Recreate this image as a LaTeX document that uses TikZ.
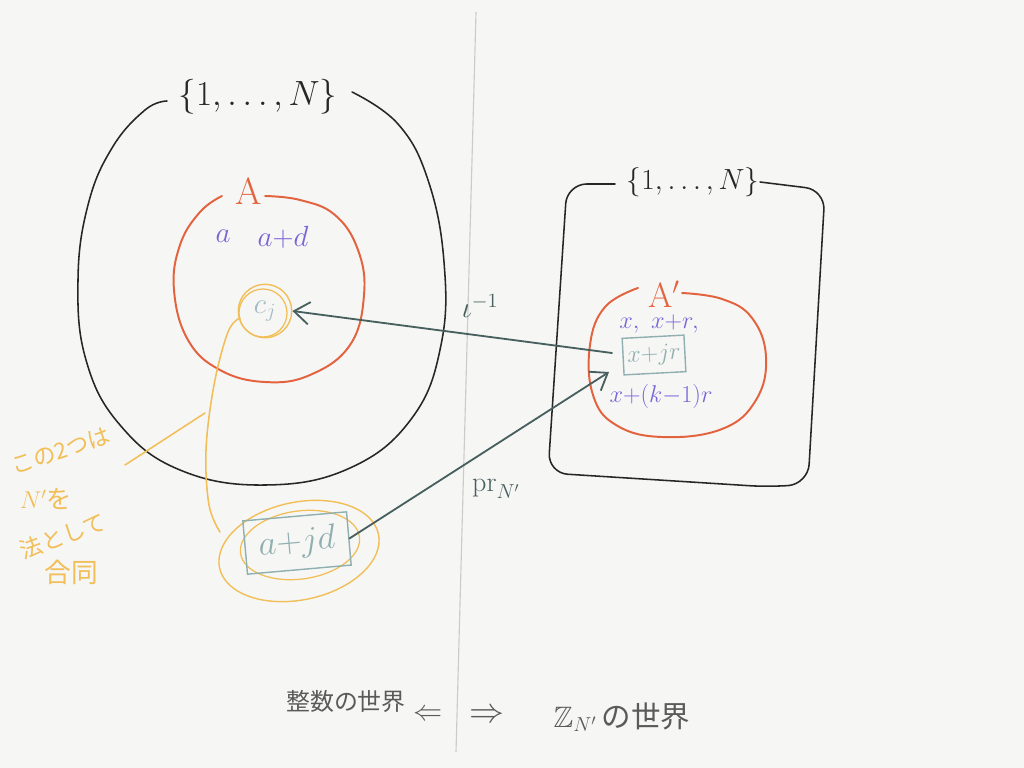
\documentclass[tikz,border=0pt]{standalone}
\usepackage{fontspec}
\usepackage{amssymb}
\newfontfamily\jp{Noto Sans CJK JP}
\usetikzlibrary{arrows.meta}
\definecolor{bg}{HTML}{F6F6F5}
\definecolor{ink}{HTML}{262626}
\definecolor{orng}{HTML}{E4633F}
\definecolor{purp}{HTML}{7B63D8}
\definecolor{yel}{HTML}{F1BE58}
\definecolor{slate}{HTML}{47605E}
\definecolor{boxc}{HTML}{8FAFB0}
\definecolor{cjc}{HTML}{A3BAC4}
\definecolor{vl}{HTML}{CBCBCB}
\definecolor{gry}{HTML}{5A5A5A}
\tikzset{
  blk/.style={draw=ink, line width=1.1pt, line cap=round, line join=round},
  org/.style={draw=orng, line width=1.4pt, line cap=round, line join=round},
  yelline/.style={draw=yel, line width=1.1pt, line cap=round},
  arr/.style={draw=slate, line width=1.3pt, line cap=round, -{Straight Barb[length=11pt,width=16pt,line width=1.3pt]}},
  plab/.style={text=purp, inner sep=0pt},
  jptext/.style={text=yel, inner sep=0pt, font=\jp},
  mbox/.style={draw=boxc, line width=1pt, inner sep=2pt, text=boxc},
}
\begin{document}
\begin{tikzpicture}[x=0.025cm, y=-0.025cm]
\useasboundingbox (0,0) rectangle (1024,768);
\fill[bg] (0,0) rectangle (1024,768);

% dividing line
\draw[vl, line width=0.8pt] (476,12) -- (456,752);

% left big set
\draw[blk] plot[smooth, tension=0.7] coordinates {(352,92) (398,124) (428,180) (444,262) (441,345) (412,418) (350,468) (265,485) (180,470) (120,425) (86,360) (78,280) (88,205) (112,148) (145,110) (167,101)};
\node[text=ink, inner sep=0pt, font=\fontsize{26}{30}\selectfont] (U1) at (258,97) {$\{1,\dots,N\}$};

% A
\draw[org] plot[smooth, tension=0.7] coordinates {(265,196) (300,200) (335,215) (358,250) (364,295) (350,345) (310,375) (265,382) (220,370) (188,340) (174,290) (180,245) (200,212) (222,196)};
\node[text=orng, inner sep=0pt, font=\fontsize{27}{30}\selectfont] (A) at (249,191) {$\mathrm{A}$};
\node[plab, font=\fontsize{22}{26}\selectfont] (a1) at (223,236) {$a$};
\node[plab, font=\fontsize{21}{26}\selectfont] (a2) at (283,237) {$a{+}d$};

% c_j
\node[circle, draw=yel, line width=1pt, minimum size=38pt, inner sep=0pt, text=cjc, font=\fontsize{20}{24}\selectfont] (CJ) at (265,311) {$c_j$};
\draw[yel, line width=0.9pt] (263,313) circle [radius=0.6cm];

% right set
\draw[blk, rounded corners=14pt] (615,184) -- (567,184) -- (548,473) -- (770,487) -- (808,484) -- (825,190) -- (760,182);
\node[text=ink, inner sep=0pt, font=\fontsize{22}{26}\selectfont] (U2) at (693,182) {$\{1,\dots,N\}$};

% A'
\draw[org] plot[smooth, tension=0.7] coordinates {(682,293) (722,299) (752,318) (766,357) (756,400) (722,429) (662,437) (616,425) (593,395) (590,345) (605,307) (638,288)};
\node[text=orng, inner sep=0pt, font=\fontsize{25}{30}\selectfont] (Ap) at (664,294) {$\mathrm{A}'$};
\node[plab, font=\fontsize{18}{22}\selectfont] (x1) at (659,324) {$x,\ x{+}r,$};
\node[mbox, minimum width=44pt, minimum height=26pt, rotate=3, font=\fontsize{17}{20}\selectfont] (XJR) at (654,355) {$x{+}jr$};
\node[plab, font=\fontsize{17}{22}\selectfont] (x3) at (661,396) {$x{+}(k{-}1)r$};

% a+jd
\draw[yel, line width=1pt, rotate around={12:(299,551)}] (299,551) ellipse [x radius=2.03cm, y radius=1.22cm];
\draw[yel, line width=0.9pt, rotate around={8:(300,545)}] (300,545) ellipse [x radius=1.5cm, y radius=0.85cm];
\node[mbox, minimum width=74pt, minimum height=38pt, rotate=5, font=\fontsize{23}{26}\selectfont] (AJD) at (297,543) {$a{+}jd$};

% connectors
\coordinate (iotaStart) at (612,353);
\draw[arr] (iotaStart) -- (CJ.east);
\node[text=slate, inner sep=0pt, font=\fontsize{20}{24}\selectfont] (iota) at (480,306) {$\iota^{-1}$};
\coordinate (prEnd) at (609,372);
\draw[arr] (AJD.east) -- (prEnd);
\node[text=slate, inner sep=0pt, font=\fontsize{20}{24}\selectfont] (pr) at (496,489) {$\mathrm{pr}_{N'}$};

% yellow link between c_j and a+jd
\draw[yelline] plot[smooth, tension=0.6] coordinates {(240,318) (228,332) (214,385) (206,450) (209,505) (220,532)};
\coordinate (ptrA) at (125,465);
\coordinate (ptrB) at (205,413);
\draw[yelline] (ptrA) -- (ptrB);

% Japanese note
\node[jptext, rotate=18, font=\jp\fontsize{16}{20}\selectfont] (j1) at (61,451) {この2つは};
\node[jptext, font=\jp\fontsize{18}{20}\selectfont] (j2) at (46,499) {$N'$を};
\node[jptext, rotate=20, font=\jp\fontsize{16}{20}\selectfont] (j3) at (63,536) {法として};
\node[jptext, font=\jp\fontsize{19}{22}\selectfont] (j4) at (71,572) {合同};

% bottom caption
\node[text=gry, inner sep=0pt, font=\jp\fontsize{17}{20}\selectfont] (w1) at (346,701) {整数の世界};
\node[text=gry, inner sep=0pt, font=\fontsize{22}{24}\selectfont] (la) at (428,715) {$\Leftarrow$};
\node[text=gry, inner sep=0pt, font=\fontsize{24}{24}\selectfont] (ra) at (487,716) {$\Rightarrow$};
\node[text=gry, inner sep=0pt, font=\jp\fontsize{21}{24}\selectfont] (w2) at (622,717) {$\mathbb{Z}_{N'}$\,の世界};
\end{tikzpicture}
\end{document}
